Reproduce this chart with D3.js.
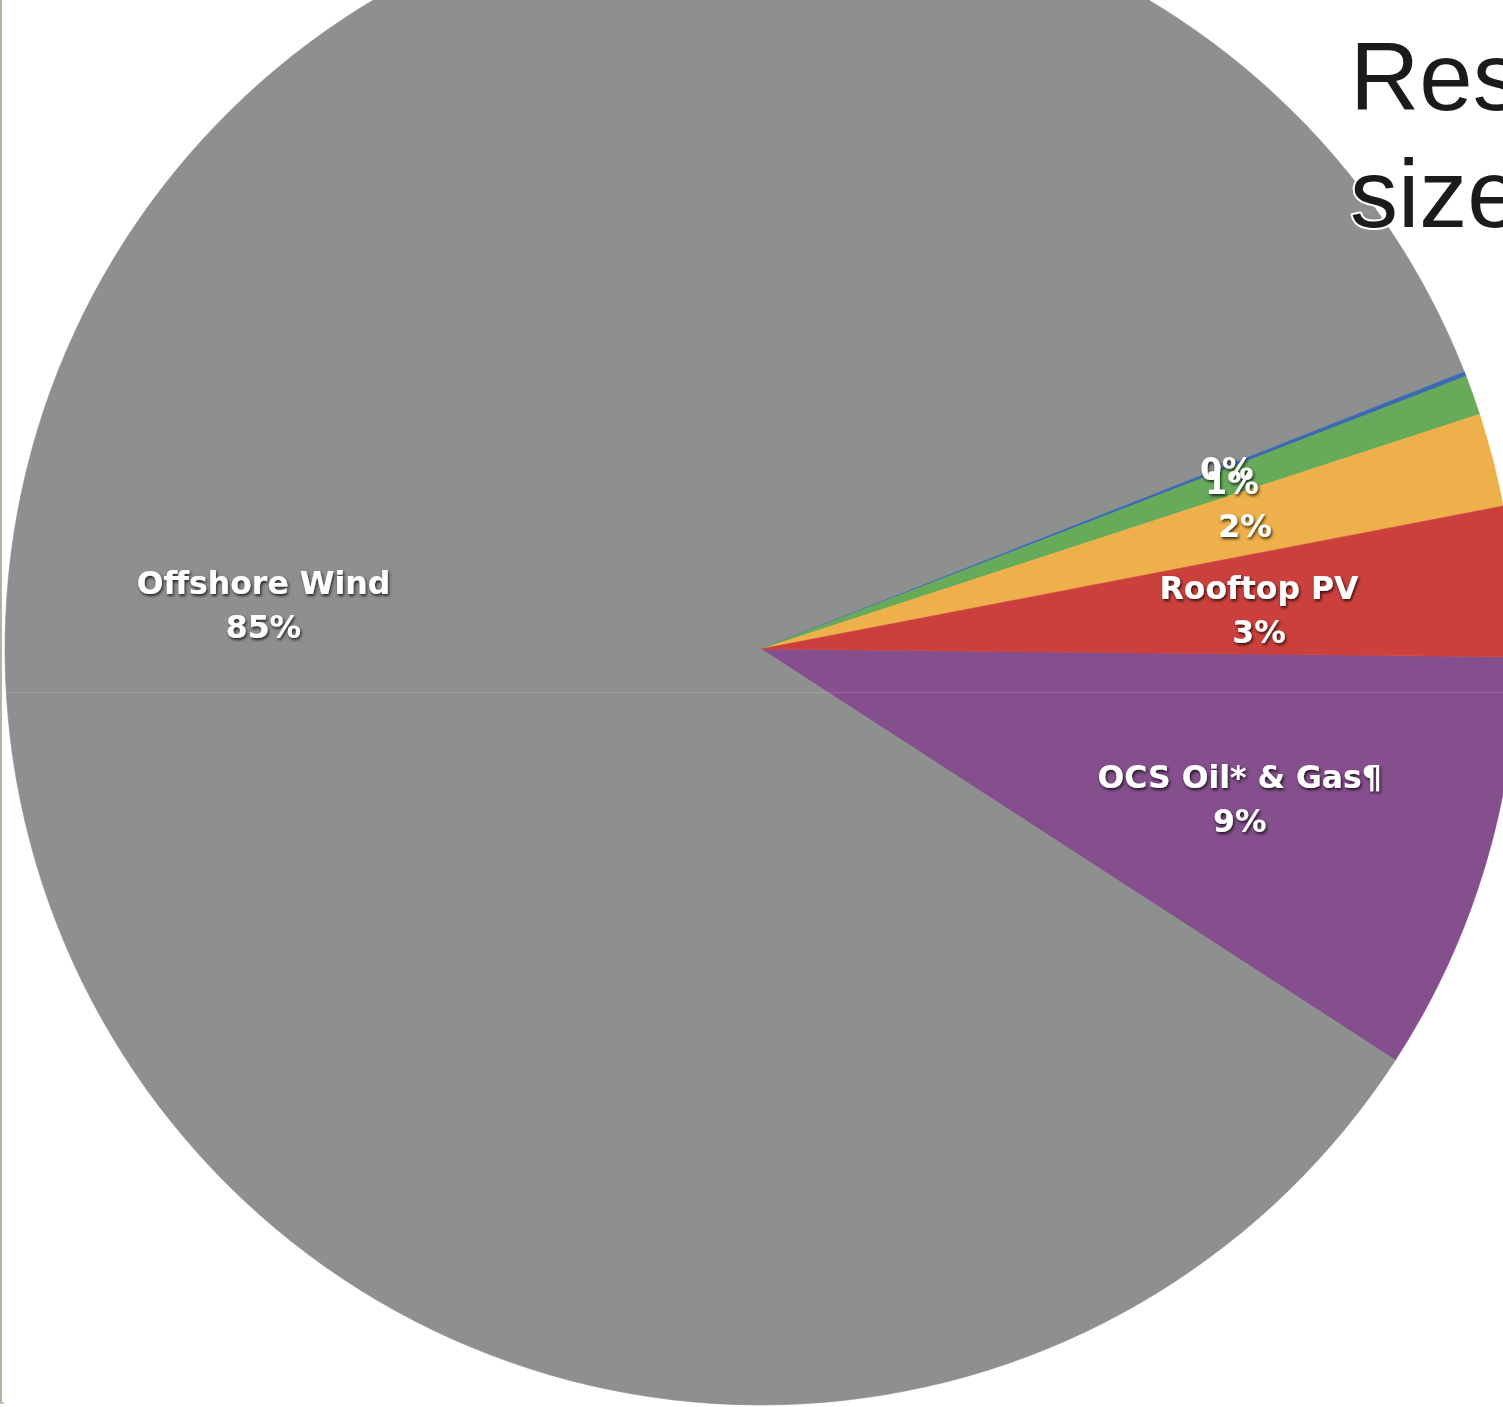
<!DOCTYPE html>
<html>
<head>
<meta charset="utf-8">
<script src="https://cdn.jsdelivr.net/npm/d3@7"></script>
<style>
  html, body { margin: 0; padding: 0; background: #ffffff; overflow: hidden; }
  svg { display: block; }
</style>
</head>
<body>
<script>
// Share of resource by source, drawn clockwise starting just below 3 o'clock
const categories = ["OCS Oil* & Gas¶", "Offshore Wind", "", "", "", "Rooftop PV"];
const shares     = [9, 85, 0.1, 0.85, 2, 3.2];
const colors     = ["#844f8c", "#8e908f", "#3d69b1", "#67aa59", "#eeb04a", "#cb403c"];
const titleLines = ["Resource", "size"];

const W = 1503, H = 1407;
const cx = 761, cy = 649, R = 756, labelR = 500;

const svg = d3.select("body").append("svg")
  .attr("width", W).attr("height", H);

const defs = svg.append("defs");
const shadow = defs.append("filter").attr("id", "lblShadow")
  .attr("x", "-20%").attr("y", "-40%").attr("width", "140%").attr("height", "180%");
shadow.append("feDropShadow")
  .attr("dx", 1.2).attr("dy", 2).attr("stdDeviation", 1.4)
  .attr("flood-color", "#000").attr("flood-opacity", 0.75);

defs.append("clipPath").attr("id", "pieClip")
  .append("circle").attr("cx", cx).attr("cy", cy).attr("r", R);

// thin border running down the left side
svg.append("line").attr("x1", 1).attr("x2", 1).attr("y1", 0).attr("y2", 1403)
  .attr("stroke", "#b4b4a2").attr("stroke-width", 2);
svg.append("line").attr("x1", 0).attr("x2", 4).attr("y1", 1403).attr("y2", 1403)
  .attr("stroke", "#b4b4a2").attr("stroke-width", 1.5);

const data = categories.map((c, i) => ({ name: c, value: shares[i], color: colors[i] }));

const start = (90.6) * Math.PI / 180;
const pie = d3.pie().value(d => d.value).sort(null)
  .startAngle(start).endAngle(start + 2 * Math.PI);
const arcs = pie(data);

const arc = d3.arc().innerRadius(0).outerRadius(R);
const labelArc = d3.arc().innerRadius(labelR).outerRadius(labelR);

const g = svg.append("g").attr("transform", `translate(${cx},${cy})`);
g.selectAll("path.slice").data(arcs).join("path")
  .attr("class", "slice")
  .attr("d", arc)
  .attr("fill", d => d.data.color)
  .attr("stroke", d => d.data.color)
  .attr("stroke-width", 0.6);

// faint seam across the disc
svg.append("line").attr("clip-path", "url(#pieClip)")
  .attr("x1", 0).attr("x2", W).attr("y1", 692.5).attr("y2", 692.5)
  .attr("stroke", "#ffffff").attr("stroke-opacity", 0.14).attr("stroke-width", 1);

// slice labels
const fs = 31.5;
const labels = svg.append("g")
  .attr("font-family", "'DejaVu Sans', sans-serif")
  .attr("font-weight", "bold")
  .attr("font-size", fs)
  .attr("fill", "#ffffff")
  .attr("text-anchor", "middle")
  .attr("filter", "url(#lblShadow)");

arcs.forEach(d => {
  const [x, y] = labelArc.centroid(d);
  const pct = Math.round(d.data.value) + "%";
  const t = labels.append("text")
    .attr("transform", `translate(${cx + x},${cy + y})`);
  if (d.data.name) {
    t.append("tspan").attr("x", 0).attr("y", -5).text(d.data.name);
    t.append("tspan").attr("x", 0).attr("y", 39).text(pct);
  } else {
    t.append("tspan").attr("x", 0).attr("y", 13).text(pct);
  }
});

// title, running off the right edge
const title = svg.append("text")
  .attr("font-family", "'Liberation Sans', Arial, sans-serif")
  .attr("font-size", 96)
  .attr("fill", "#1b1b1b")
  .attr("stroke", "#ffffff").attr("stroke-width", 4)
  .attr("paint-order", "stroke")
  .attr("stroke-linejoin", "round");
title.selectAll("tspan").data(titleLines).join("tspan")
  .attr("x", 1350)
  .attr("y", (d, i) => 110 + i * 117)
  .text(d => d);
</script>
</body>
</html>
